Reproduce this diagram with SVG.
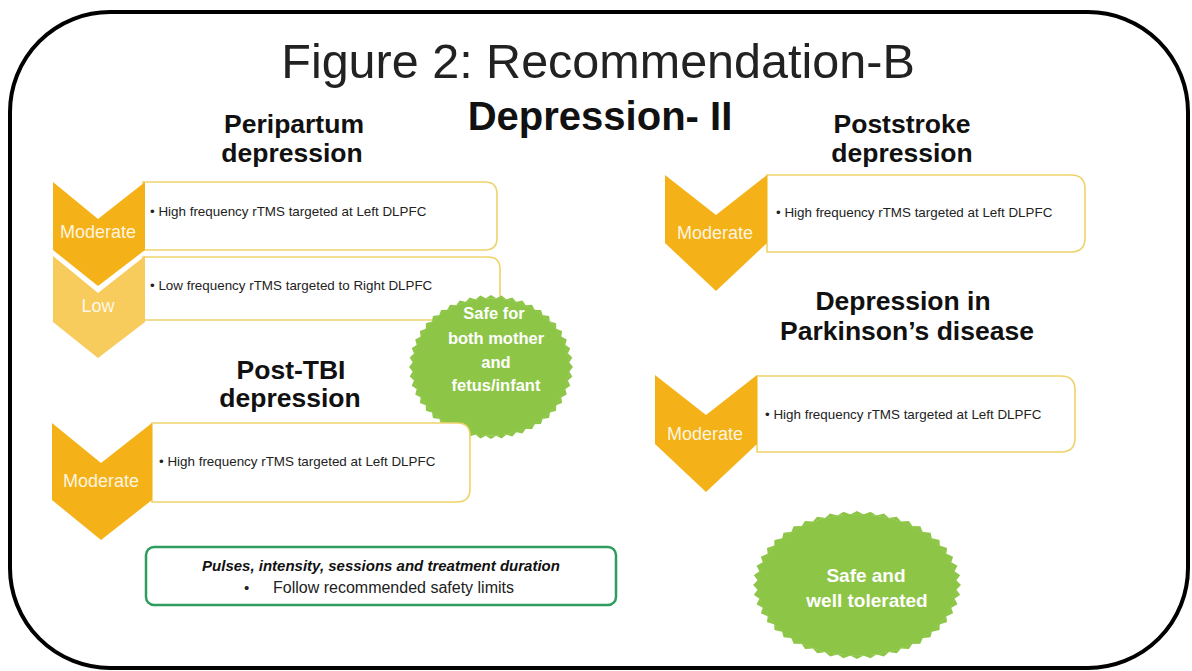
<svg xmlns="http://www.w3.org/2000/svg" xmlns:xlink="http://www.w3.org/1999/xlink" width="1192" height="671" viewBox="0 0 1192 671">
  <style>
    .sans { font-family: "Liberation Sans", Arial, sans-serif; }
    .title { font-size: 48.5px; fill: #222; text-anchor: middle; }
    .main { font-size: 40px; font-weight: bold; fill: #111; text-anchor: middle; }
    .head { font-size: 26.5px; font-weight: bold; fill: #111; text-anchor: middle; }
    .chev { fill: #F4B218; }
    .chev-low { fill: #F7CB5C; }
    .lvl { font-size: 18px; fill: #fff; fill-opacity: 0.88; text-anchor: middle; }
    .box { fill: #fff; stroke: #EED36A; stroke-width: 1.6; }
    .item { font-size: 13.4px; fill: #222; }
    .burst { fill: #8DC646; }
    .burst-text { font-weight: bold; fill: #fff; text-anchor: middle; }
    .note { fill: #fff; stroke: #2E9D5E; stroke-width: 2.5; }
  </style>
  <defs>
    <!-- one saw tooth on a unit circle of radius 100 -->
    <polygon id="tooth" points="-7,-95 0,-100 7,-95"/>
    <g id="teeth6">
      <use xlink:href="#tooth"/>
      <use xlink:href="#tooth" transform="rotate(7.5)"/>
      <use xlink:href="#tooth" transform="rotate(15)"/>
      <use xlink:href="#tooth" transform="rotate(22.5)"/>
      <use xlink:href="#tooth" transform="rotate(30)"/>
      <use xlink:href="#tooth" transform="rotate(37.5)"/>
    </g>
    <!-- 48-point seal, scaled into an ellipse where used -->
    <g id="seal">
      <circle r="95.5"/>
      <use xlink:href="#teeth6"/>
      <use xlink:href="#teeth6" transform="rotate(45)"/>
      <use xlink:href="#teeth6" transform="rotate(90)"/>
      <use xlink:href="#teeth6" transform="rotate(135)"/>
      <use xlink:href="#teeth6" transform="rotate(180)"/>
      <use xlink:href="#teeth6" transform="rotate(225)"/>
      <use xlink:href="#teeth6" transform="rotate(270)"/>
      <use xlink:href="#teeth6" transform="rotate(315)"/>
    </g>
  </defs>

  <rect width="1192" height="671" fill="#fff"/>
  <!-- frame -->
  <rect x="10" y="12" width="1178" height="656" rx="100" ry="100" fill="none" stroke="#000" stroke-width="4"/>

  <g id="titles" class="sans">
    <text class="title" x="598" y="78">Figure 2: Recommendation-B</text>
    <text class="main" x="600" y="130">Depression- II</text>
  </g>

  <!-- Peripartum depression -->
  <g id="peripartum" class="sans">
    <text class="head" x="294" y="133">Peripartum</text>
    <text class="head" x="292" y="162">depression</text>
    <path class="box" d="M143,182 H485 Q497,182 497,194 V238 Q497,250 485,250 H143 Z"/>
    <path class="box" d="M143,257 H488 Q500,257 500,269 V308 Q500,320 488,320 H143 Z"/>
    <text class="item" x="150" y="216">• High frequency rTMS targeted at Left DLPFC</text>
    <text class="item" x="150" y="290">• Low frequency rTMS targeted to Right DLPFC</text>
    <path class="chev-low" d="M53,256 L98,293 L145,256 L145,322 L98,358 L53,322 Z"/>
    <path class="chev" d="M53,182 L98,219 L145,182 L145,250 L98,286 L53,250 Z"/>
    <text class="lvl" x="98" y="238">Moderate</text>
    <text class="lvl" x="98" y="312">Low</text>
  </g>

  <g id="safe-mother" class="sans">
    <use xlink:href="#seal" class="burst" transform="translate(491,367) scale(0.82,0.72)"/>
    <text class="burst-text" font-size="16.5" x="494" y="319">Safe for</text>
    <text class="burst-text" font-size="16.5" x="496" y="344">both mother</text>
    <text class="burst-text" font-size="16.5" x="496" y="368">and</text>
    <text class="burst-text" font-size="16.5" x="496" y="391">fetus/infant</text>
  </g>

  <!-- Post-TBI depression -->
  <g id="post-tbi" class="sans">
    <text class="head" x="291" y="379">Post-TBI</text>
    <text class="head" x="290" y="407">depression</text>
    <path class="box" d="M152,423 H457 Q470,423 470,436 V489 Q470,502 457,502 H152 Z"/>
    <text class="item" x="159" y="466">• High frequency rTMS targeted at Left DLPFC</text>
    <path class="chev" d="M52,423 L101,463 L152,423 L152,500 L101,540 L52,500 Z"/>
    <text class="lvl" x="101" y="487">Moderate</text>
  </g>

  <!-- Poststroke depression -->
  <g id="poststroke" class="sans">
    <text class="head" x="902" y="133">Poststroke</text>
    <text class="head" x="902" y="162">depression</text>
    <path class="box" d="M767,175 H1071 Q1085,175 1085,189 V238 Q1085,252 1071,252 H767 Z"/>
    <text class="item" x="776" y="217">• High frequency rTMS targeted at Left DLPFC</text>
    <path class="chev" d="M665,175 L716,215 L767,175 L767,243 L716,291 L665,243 Z"/>
    <text class="lvl" x="715" y="239">Moderate</text>
  </g>

  <!-- Depression in Parkinson's disease -->
  <g id="parkinson" class="sans">
    <text class="head" x="903" y="310">Depression in</text>
    <text class="head" x="907" y="340">Parkinson’s disease</text>
    <path class="box" d="M757,376 H1061 Q1075,376 1075,390 V438 Q1075,452 1061,452 H757 Z"/>
    <text class="item" x="765" y="419">• High frequency rTMS targeted at Left DLPFC</text>
    <path class="chev" d="M655,375 L706,415 L757,375 L757,444 L706,492 L655,444 Z"/>
    <text class="lvl" x="705" y="440">Moderate</text>
  </g>

  <!-- dosing note -->
  <g id="dosing" class="sans">
    <rect class="note" x="146" y="547" width="470" height="58" rx="8" ry="8"/>
    <text x="381" y="571" font-size="15" font-weight="bold" font-style="italic" fill="#111" text-anchor="middle">Pulses, intensity, sessions and treatment duration</text>
    <text x="244" y="593" font-size="15" fill="#222">•</text>
    <text x="273" y="593" font-size="16" fill="#222">Follow recommended safety limits</text>
  </g>

  <g id="safe-tolerated" class="sans">
    <use xlink:href="#seal" class="burst" transform="translate(857,585) scale(1.04,0.74)"/>
    <text class="burst-text" font-size="19" x="866" y="582">Safe and</text>
    <text class="burst-text" font-size="19" x="867" y="607">well tolerated</text>
  </g>
</svg>
